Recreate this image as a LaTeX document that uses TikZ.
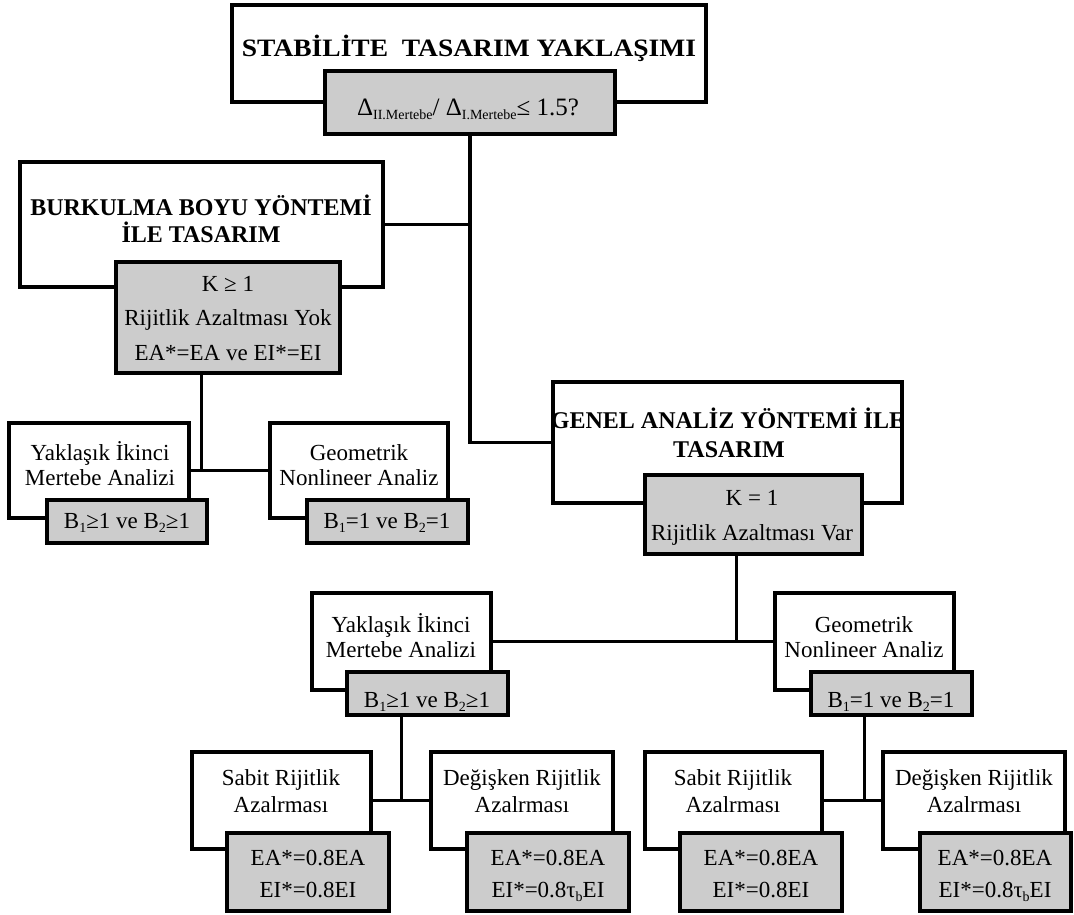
\documentclass[tikz,border=0pt]{standalone}
\usepackage{fontspec}
\setmainfont{Liberation Serif}
\usepackage{graphicx}
\definecolor{boxgray}{RGB}{204,204,204}
\newcommand\lowsub[1]{\raisebox{-4.5pt}{\fontsize{14}{14}\selectfont #1}}
\begin{document}
\begin{tikzpicture}[x=1pt,y=-1pt,
  wbox/.style={draw, line width=3.7pt, fill=white, inner sep=0pt},
  gbox/.style={draw, line width=3.7pt, fill=boxgray, inner sep=0pt},
  conn/.style={draw, line width=3.5pt},
  txt/.style={anchor=base, inner sep=0pt, font=\fontsize{23}{23}\selectfont},
  btxt/.style={anchor=base, inner sep=0pt, font=\fontsize{24}{24}\selectfont\bfseries}]
\useasboundingbox (0,0) rectangle (1074,914);

% boxes
\node[wbox, minimum width=474pt, minimum height=97pt] (top) at (469,53.5) {};
\node[gbox, minimum width=290pt, minimum height=63pt] (g0) at (470,102.5) {};
\node[wbox, minimum width=363pt, minimum height=125pt] (burk) at (201.5,224.5) {};
\node[gbox, minimum width=224pt, minimum height=111pt] (bg) at (228,317.5) {};
\node[wbox, minimum width=180pt, minimum height=95pt] (yl) at (99,470.5) {};
\node[gbox, minimum width=160pt, minimum height=43pt] (ylg) at (127,521.5) {};
\node[wbox, minimum width=178pt, minimum height=95pt] (gl) at (359,470.5) {};
\node[gbox, minimum width=161pt, minimum height=43pt] (glg) at (387.5,521.5) {};
\node[wbox, minimum width=349pt, minimum height=121pt] (genel) at (727.5,442.5) {};
\node[gbox, minimum width=217pt, minimum height=79pt] (kg) at (753.5,514.5) {};
\node[wbox, minimum width=179pt, minimum height=97pt] (ym) at (401.5,641.5) {};
\node[gbox, minimum width=161pt, minimum height=43pt] (ymg) at (427.5,693.5) {};
\node[wbox, minimum width=179pt, minimum height=97pt] (gm) at (864.5,641.5) {};
\node[gbox, minimum width=161pt, minimum height=43pt] (gmg) at (891.5,693.5) {};
\node[wbox, minimum width=179pt, minimum height=97pt] (sl) at (281.5,800.5) {};
\node[gbox, minimum width=162pt, minimum height=78pt] (slg) at (308,872) {};
\node[wbox, minimum width=182pt, minimum height=97pt] (dl) at (522,800.5) {};
\node[gbox, minimum width=162pt, minimum height=78pt] (dlg) at (548,872) {};
\node[wbox, minimum width=177pt, minimum height=97pt] (sr) at (733.5,800.5) {};
\node[gbox, minimum width=162pt, minimum height=78pt] (srg) at (761,872) {};
\node[wbox, minimum width=182pt, minimum height=97pt] (dr) at (974,800.5) {};
\node[gbox, minimum width=151pt, minimum height=78pt] (drg) at (995.5,872) {};

% connectors
\draw[conn] (g0.south) -- (g0.south |- genel.west) -- (genel.west);
\draw[conn] (burk.east) -- (burk.east -| g0.south);
\draw[conn] (burk.center |- bg.south) -- (burk.center |- yl.east);
\draw[conn] (yl.east) -- (gl.west);
\draw[conn] ([xshift=-17pt]kg.south) -- ([xshift=-17pt]kg.south |- ym.east);
\draw[conn] (ym.east) -- (gm.west);
\draw[conn] (ym.center |- ymg.south) -- (ym.center |- sl.east);
\draw[conn] (sl.east) -- (dl.west);
\draw[conn] (gm.center |- gmg.south) -- (gm.center |- sr.east);
\draw[conn] (sr.east) -- (dr.west);

% texts
\node[btxt, font=\fontsize{25}{25}\selectfont\bfseries] (t0) at (469,56) {\scalebox{1.1}[1]{STABİLİTE\ \ TASARIM YAKLAŞIMI}};
\node[txt] (t1) at (468,115) {\fontsize{25}{25}\selectfont Δ\lowsub{II.Mertebe}/ Δ\lowsub{I.Mertebe}≤ 1.5?};
\node[btxt] (t2) at (201,215) {BURKULMA BOYU YÖNTEMİ};
\node[btxt] (t3) at (201,242) {İLE TASARIM};
\node[txt] (t4) at (228,291) {K ≥ 1};
\node[txt] (t5) at (228,325) {Rijitlik\ Azaltması\ Yok};
\node[txt] (t6) at (228,360) {EA*=EA ve EI*=EI};
\node[txt] (t7) at (100,460) {Yaklaşık\ İkinci};
\node[txt] (t8) at (100,485) {Mertebe Analizi};
\node[txt] (t9) at (127,528) {B\lowsub{1}≥1\ ve B\lowsub{2}≥1};
\node[txt] (t10) at (359,460) {Geometrik};
\node[txt] (t11) at (359,485) {Nonlineer Analiz};
\node[txt] (t12) at (387,528) {B\lowsub{1}=1\ ve B\lowsub{2}=1};
\node[btxt] (t13) at (728,428) {GENEL ANALİZ YÖNTEMİ İLE};
\node[btxt] (t14) at (729,457) {TASARIM};
\node[txt] (t15) at (752,505) {K = 1};
\node[txt] (t16) at (752,540) {Rijitlik\ Azaltması\ Var};
\node[txt] (t17) at (401,632) {Yaklaşık\ İkinci};
\node[txt] (t18) at (401,657) {Mertebe Analizi};
\node[txt] (t19) at (427,707) {B\lowsub{1}≥1\ ve B\lowsub{2}≥1};
\node[txt] (t20) at (864,632) {Geometrik};
\node[txt] (t21) at (864,657) {Nonlineer Analiz};
\node[txt] (t22) at (891,707) {B\lowsub{1}=1\ ve B\lowsub{2}=1};
\node[txt] (t23) at (281,785) {Sabit Rijitlik};
\node[txt] (t24) at (281,812) {Azalrması};
\node[txt] (t25) at (308,865) {EA*=0.8EA};
\node[txt] (t26) at (308,897) {EI*=0.8EI};
\node[txt] (t27) at (522,785) {Değişken Rijitlik};
\node[txt] (t28) at (522,812) {Azalrması};
\node[txt] (t29) at (548,865) {EA*=0.8EA};
\node[txt] (t30) at (548,897) {EI*=0.8τ\lowsub{b}EI};
\node[txt] (t31) at (733,785) {Sabit Rijitlik};
\node[txt] (t32) at (733,812) {Azalrması};
\node[txt] (t33) at (761,865) {EA*=0.8EA};
\node[txt] (t34) at (761,897) {EI*=0.8EI};
\node[txt] (t35) at (974,785) {Değişken Rijitlik};
\node[txt] (t36) at (974,812) {Azalrması};
\node[txt] (t37) at (995,865) {EA*=0.8EA};
\node[txt] (t38) at (995,897) {EI*=0.8τ\lowsub{b}EI};
\end{tikzpicture}
\end{document}
